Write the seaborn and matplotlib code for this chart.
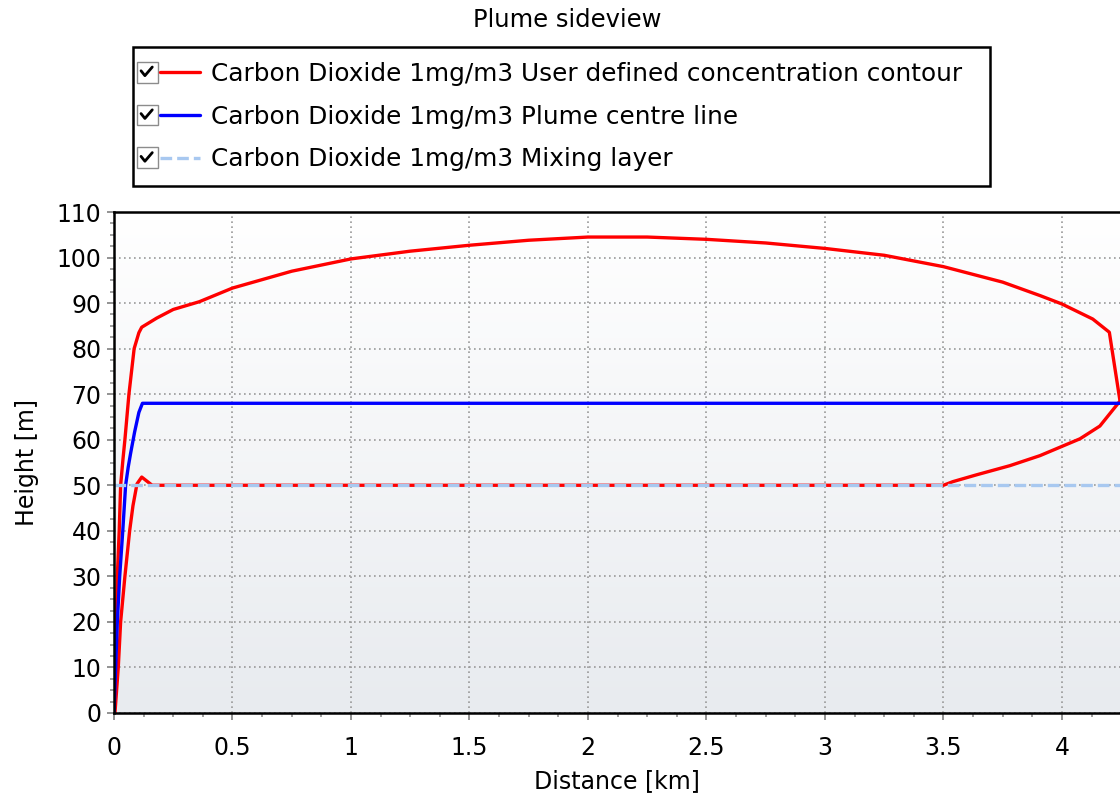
import numpy as np
import pandas as pd
import seaborn as sns
import matplotlib.pyplot as plt
from matplotlib.lines import Line2D
from matplotlib.patches import Rectangle
from matplotlib.legend_handler import HandlerLine2D
from matplotlib.colors import LinearSegmentedColormap
from matplotlib.ticker import FuncFormatter, MultipleLocator

# contour of the 1 mg/m3 plume, traced upper edge -> tip -> lower edge
contour_x = [0.0, 0.004, 0.014, 0.022, 0.028, 0.038, 0.046, 0.063, 0.085, 0.105, 0.117,
             0.18, 0.25, 0.36, 0.5, 0.75, 1.0, 1.25, 1.5, 1.75, 2.0, 2.25, 2.5, 2.75,
             3.0, 3.25, 3.5, 3.75, 3.91, 4.0, 4.13, 4.2, 4.245,
             4.16, 4.076, 3.907, 3.78, 3.64, 3.54, 3.5,
             0.161, 0.117, 0.097, 0.08, 0.066, 0.046, 0.028, 0.018, 0.004]
contour_y = [0, 10, 30, 40, 50, 55.8, 60, 70, 80, 83.5, 84.7,
             86.7, 88.6, 90.3, 93.3, 97.0, 99.7, 101.4, 102.7, 103.8, 104.5, 104.5, 104.0, 103.2,
             102.0, 100.5, 98.0, 94.6, 91.6, 89.8, 86.5, 83.6, 68.5,
             63.0, 60.2, 56.5, 54.3, 52.3, 50.8, 50.0,
             50.0, 51.8, 50.3, 45.5, 40, 30, 20, 10, 0]

centre_x = [0.0, 0.007, 0.014, 0.024, 0.037, 0.049, 0.06, 0.07, 0.087, 0.105, 0.12, 4.245]
centre_y = [0, 10, 20, 30, 40, 50, 54, 57, 61.7, 66, 68, 68]

mixing_x = [0.0, 4.245]
mixing_y = [50, 50]

x_ticks = [0, 0.5, 1, 1.5, 2, 2.5, 3, 3.5, 4]
y_ticks = [0, 10, 20, 30, 40, 50, 60, 70, 80, 90, 100, 110]

labels = ['Carbon Dioxide 1mg/m3 User defined concentration contour',
          'Carbon Dioxide 1mg/m3 Plume centre line',
          'Carbon Dioxide 1mg/m3 Mixing layer']

sns.set_style('ticks')
plt.rcParams['font.family'] = ['DejaVu Sans']
plt.rcParams['text.color'] = 'black'
plt.rcParams['axes.labelcolor'] = 'black'
FS = 17


class CheckboxHandler(HandlerLine2D):
    # little ticked box in front of each legend line, like the desktop widget
    def create_artists(self, legend, orig_handle, xdescent, ydescent,
                       width, height, fontsize, trans):
        bs = 15.0
        x0 = -xdescent - 7.6
        cy = height / 2 - ydescent
        box = Rectangle((x0, cy - bs / 2), bs, bs, facecolor='white',
                        edgecolor='#8c8c8c', linewidth=1.0, transform=trans)
        yb = cy - bs / 2
        tick = Line2D([x0 + 2.7, x0 + 5.5, x0 + 10.8], [yb + 8.5, yb + 5.0, yb + 11.2],
                      color='black', linewidth=2.0, transform=trans)
        shift = 9.1
        arts = super().create_artists(legend, orig_handle, xdescent - shift, ydescent,
                                      width - shift, height, fontsize, trans)
        return [box, tick] + arts


fig = plt.figure(figsize=(11.2, 7.96), dpi=100)
ax = fig.add_axes([114 / 1120, 83 / 796, 1006 / 1120, 501 / 796])

# soft vertical gradient behind the plot
grad = np.linspace(0, 1, 256).reshape(-1, 1)
cmap = LinearSegmentedColormap.from_list('bg', ['#ffffff', '#e8ebef'])
ax.imshow(grad, extent=(0, 1, 0, 1), transform=ax.transAxes, aspect='auto',
          cmap=cmap, zorder=0)

contour = pd.DataFrame({'x': contour_x, 'y': contour_y})
centre = pd.DataFrame({'x': centre_x, 'y': centre_y})
mixing = pd.DataFrame({'x': mixing_x, 'y': mixing_y})

sns.lineplot(data=contour, x='x', y='y', sort=False, estimator=None, ax=ax,
             color='#ff0000', linewidth=2.4, label=labels[0])
sns.lineplot(data=centre, x='x', y='y', sort=False, estimator=None, ax=ax,
             color='#0000ff', linewidth=2.4, label=labels[1])
sns.lineplot(data=mixing, x='x', y='y', sort=False, estimator=None, ax=ax,
             color='#a8c8f0', linewidth=2.4, linestyle=(0, (3.5, 1.5)), label=labels[2])

ax.set_xlim(0, 4.245)
ax.set_ylim(0, 110)
ax.set_xticks(x_ticks)
ax.set_yticks(y_ticks)
fmt = FuncFormatter(lambda v, p: f'{v:g}')
ax.xaxis.set_major_formatter(fmt)
ax.yaxis.set_major_formatter(fmt)
ax.xaxis.set_minor_locator(MultipleLocator(0.125))
ax.yaxis.set_minor_locator(MultipleLocator(2.5))
ax.tick_params(which='major', length=5, width=1.2, color='#808080', labelsize=FS,
               labelcolor='black')
ax.tick_params(which='minor', length=3, width=1.2, color='#909090')
ax.tick_params(axis='x', which='major', pad=11.5)
ax.tick_params(axis='y', which='major', pad=4)

ax.set_axisbelow(True)
ax.grid(True, which='major', color='#999999', linestyle=(0, (1, 2)), linewidth=1.2)

for side in ['left', 'bottom', 'top']:
    ax.spines[side].set_color('black')
    ax.spines[side].set_linewidth(1.8)
ax.spines['right'].set_visible(False)

ax.set_xlabel('Distance [km]', fontsize=FS, labelpad=6.5)
ax.set_ylabel('Height [m]', fontsize=FS, labelpad=13)

ax.get_legend().remove()
handles, labs = ax.get_legend_handles_labels()
leg = fig.legend(handles, labs, loc='upper left',
                 bbox_to_anchor=(133 / 1120, 1 - 182 / 796, 857 / 1120, 135 / 796),
                 mode='expand', borderaxespad=0, borderpad=0.6, labelspacing=0.76,
                 handlelength=2.1, handletextpad=0.47, fontsize=17.8,
                 frameon=True, fancybox=False, framealpha=1, edgecolor='black',
                 handler_map={Line2D: CheckboxHandler()})
leg.get_frame().set_linewidth(1.8)

fig.text(567 / 1120, 1 - 20 / 796, 'Plume sideview', ha='center', va='center', fontsize=17.5)

fig.savefig('out.png', dpi=100)
